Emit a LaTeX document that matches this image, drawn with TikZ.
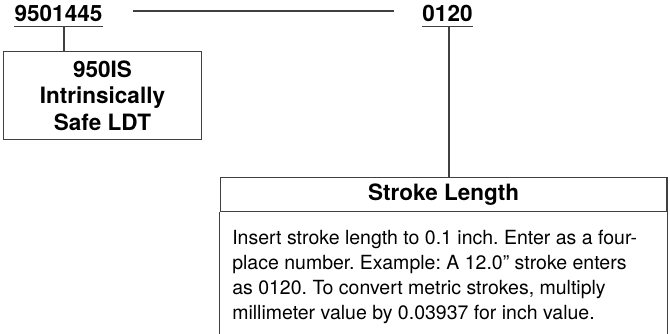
\documentclass[tikz,border=0pt]{standalone}
\usepackage{fontspec}
\setmainfont{TeX Gyre Heros}
\usetikzlibrary{positioning}
\frenchspacing

\tikzset{
  partno/.style={font=\fontsize{22.5}{25}\selectfont\bfseries, inner sep=0pt, anchor=base},
  modelbox/.style={draw, font=\fontsize{22.5}{26.3}\selectfont\bfseries, align=center,
    minimum width=198.4pt, minimum height=87.6pt, inner sep=0pt},
  headbox/.style={draw, font=\fontsize{22.5}{25}\selectfont\bfseries,
    minimum width=446.7pt, minimum height=34pt, inner sep=0pt},
  bodytext/.style={font=\fontsize{19.5}{24.9}\selectfont, align=left, inner sep=0pt, anchor=north west}
}

\begin{document}
\begin{tikzpicture}[x=1pt, y=-1pt, line width=1.2pt, draw=black!75]
\useasboundingbox (0,0) rectangle (670,334);

% part number fields
\node[partno] (model) at (58.5,21.5) {9501445};
\node[partno] (stroke) at (447.5,21.5) {0120};
\draw ([yshift=-5pt]model.base west) -- ([yshift=-5pt]model.base east);
\draw ([yshift=-5pt]stroke.base west) -- ([yshift=-5pt]stroke.base east);
\draw ([xshift=30pt,yshift=10.5pt]model.base east) -- ([xshift=-28pt,yshift=10.5pt]stroke.base west);

% model box
\node[modelbox] (modeldesc) at (102.5,95.5) {950IS\\Intrinsically\\Safe LDT};
\coordinate (modeltap) at ([xshift=5.5pt,yshift=-5pt]model.base);
\draw (modeltap) -- (modeltap |- modeldesc.north);

% stroke length box
\node[headbox] (strokehead) at (443.65,194.7) {Stroke Length};
\coordinate (stroketap) at ([xshift=1.5pt,yshift=-5pt]stroke.base);
\draw (stroketap) -- (stroketap |- strokehead.north);
\draw (strokehead.south west) -- ++(0,125) -| (strokehead.south east);
\node[bodytext] (strokebody) at ([xshift=12pt,yshift=-17.3pt]strokehead.south west)
  {Insert stroke length to 0.1 inch. Enter as a four-\\
   place number. Example: A 12.0” stroke enters\\
   as 0120. To convert metric strokes, multiply\\
   millimeter value by 0.03937 for inch value.};
\end{tikzpicture}
\end{document}
